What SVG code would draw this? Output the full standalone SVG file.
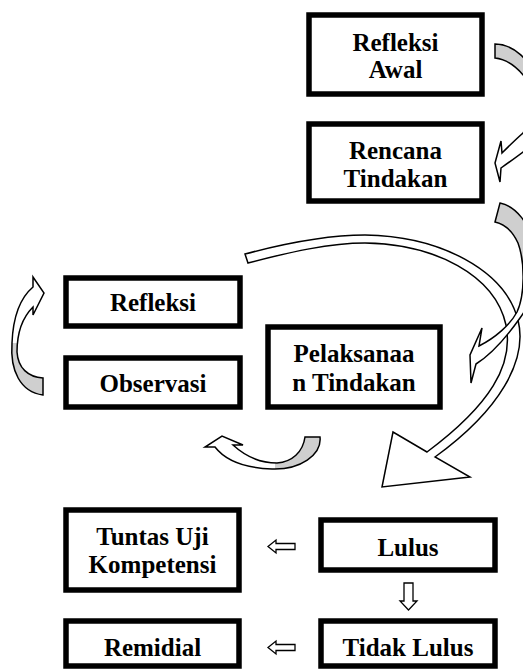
<svg xmlns="http://www.w3.org/2000/svg" width="523" height="670" viewBox="0 0 523 670">
<style>
.box{fill:#fff;stroke:#000;stroke-width:5.5}
.t{font-family:"Liberation Serif","Times New Roman",serif;font-weight:bold;font-size:25px;fill:#000;text-anchor:middle}
.arr{stroke:#000;stroke-width:1.5;stroke-linejoin:miter}
.sm{fill:#fff;stroke:#000;stroke-width:1.3}
</style>
<defs>
<linearGradient id="gA" gradientUnits="userSpaceOnUse" x1="0" y1="0" x2="0" y2="670">
<stop offset="0" stop-color="#cfcfcf"/><stop offset="0.16" stop-color="#cfcfcf"/><stop offset="0.16" stop-color="#fff"/><stop offset="1" stop-color="#fff"/>
</linearGradient>
<linearGradient id="gB" gradientUnits="userSpaceOnUse" x1="0" y1="0" x2="0" y2="670">
<stop offset="0" stop-color="#cfcfcf"/><stop offset="0.41" stop-color="#cfcfcf"/><stop offset="0.41" stop-color="#fff"/><stop offset="1" stop-color="#fff"/>
</linearGradient>
<linearGradient id="gD" gradientUnits="userSpaceOnUse" x1="0" y1="0" x2="0" y2="670">
<stop offset="0" stop-color="#fff"/><stop offset="0.512" stop-color="#fff"/><stop offset="0.512" stop-color="#cfcfcf"/><stop offset="1" stop-color="#cfcfcf"/>
</linearGradient>
<linearGradient id="gE" gradientUnits="userSpaceOnUse" x1="0" y1="0" x2="523" y2="0">
<stop offset="0" stop-color="#fff"/><stop offset="0.525" stop-color="#fff"/><stop offset="0.525" stop-color="#cfcfcf"/><stop offset="1" stop-color="#cfcfcf"/>
</linearGradient>
</defs>

<g id="connectors">
<path id="arrow-big" class="arr" fill="#fff" d="M 245,254 C 290,242 330,235 365,235 C 440,236 505,270 518,320 C 528,360 500,410 435,457 L 470,477 L 382,487 L 393,432 L 427,452 C 490,405 514,365 506,325 C 495,275 435,244 365,243 C 330,243 290,252 248,263 Z"/>
<path id="arrow-awal-rencana" class="arr" fill="url(#gA)" d="M 495,44 C 512,44 530,58 540,85 C 548,110 540,140 523,152 C 515,158 508,163 501,168 L 500,182 L 495,163 L 501,141 L 502,153 C 508,147 515,140 523,133 C 532,118 533,95 524,76 C 515,65 505,59 495,58 Z"/>
<path id="arrow-rencana-pelaksanaan" class="arr" fill="url(#gB)" fill-opacity="1" d="M 500,203 C 515,206 530,222 535,250 C 540,280 530,305 520,318 C 508,335 492,354 476,364 L 471,383 L 470,355 L 482,328 L 479,346 C 495,338 510,325 517,312 C 525,295 525,262 518,243 C 512,230 504,224 495,222 Z"/>
<path id="arrow-pelaksanaan-observasi" class="arr" fill="url(#gE)" d="M 320,437 C 322,455 300,470 272,469 C 245,468 225,460 215,447 L 205,447 L 222,436 L 243,445 L 233,445 C 245,456 260,463 277,463 C 292,462 303,452 305,437 Z"/>
<path id="arrow-observasi-refleksi" class="arr" fill="url(#gD)" d="M 43,395 C 20,392 10,370 12,343 C 13,318 20,298 33,287 L 33,277 L 44,293 L 33,315 L 33,307 C 22,318 17,335 17,352 C 18,368 28,377 43,378 Z"/>
<path id="arrow-lulus-tuntas" class="sm" d="M 268,546.5 L 276,540 L 276,543.5 L 295,543.5 L 295,549.5 L 276,549.5 L 276,553 Z"/>
<path id="arrow-lulus-tidak" class="sm" d="M 404,583 L 413,583 L 413,601 L 417,601 L 408.5,610 L 400,601 L 404,601 Z"/>
<path id="arrow-tidak-remidial" class="sm" d="M 268,647.5 L 276,641 L 276,644.5 L 295,644.5 L 295,650.5 L 276,650.5 L 276,654 Z"/>
</g>

<g id="node-refleksi-awal">
<rect class="box" x="309" y="15" width="173" height="79"/>
<text class="t" x="395.5" y="51">Refleksi</text>
<text class="t" x="395.5" y="78">Awal</text>
</g>
<g id="node-rencana-tindakan">
<rect class="box" x="309" y="124" width="173" height="77"/>
<text class="t" x="395.5" y="159">Rencana</text>
<text class="t" x="395.5" y="187">Tindakan</text>
</g>
<g id="node-refleksi">
<rect class="box" x="66" y="278" width="174" height="48"/>
<text class="t" x="153" y="311">Refleksi</text>
</g>
<g id="node-observasi">
<rect class="box" x="66" y="358" width="174" height="49"/>
<text class="t" x="153" y="392">Observasi</text>
</g>
<g id="node-pelaksanaan-tindakan">
<rect class="box" x="268" y="327" width="172" height="80"/>
<text class="t" x="354" y="362">Pelaksanaa</text>
<text class="t" x="354" y="391">n Tindakan</text>
</g>
<g id="node-tuntas">
<rect class="box" x="66" y="510" width="173" height="80"/>
<text class="t" x="152.5" y="545">Tuntas Uji</text>
<text class="t" x="152.5" y="573">Kompetensi</text>
</g>
<g id="node-lulus">
<rect class="box" x="321" y="520" width="174" height="50"/>
<text class="t" x="408" y="556">Lulus</text>
</g>
<g id="node-remidial">
<rect class="box" x="66" y="621" width="173" height="45"/>
<text class="t" x="152.5" y="656">Remidial</text>
</g>
<g id="node-tidak-lulus">
<rect class="box" x="321" y="621" width="174" height="45"/>
<text class="t" x="408" y="656">Tidak Lulus</text>
</g>
</svg>
